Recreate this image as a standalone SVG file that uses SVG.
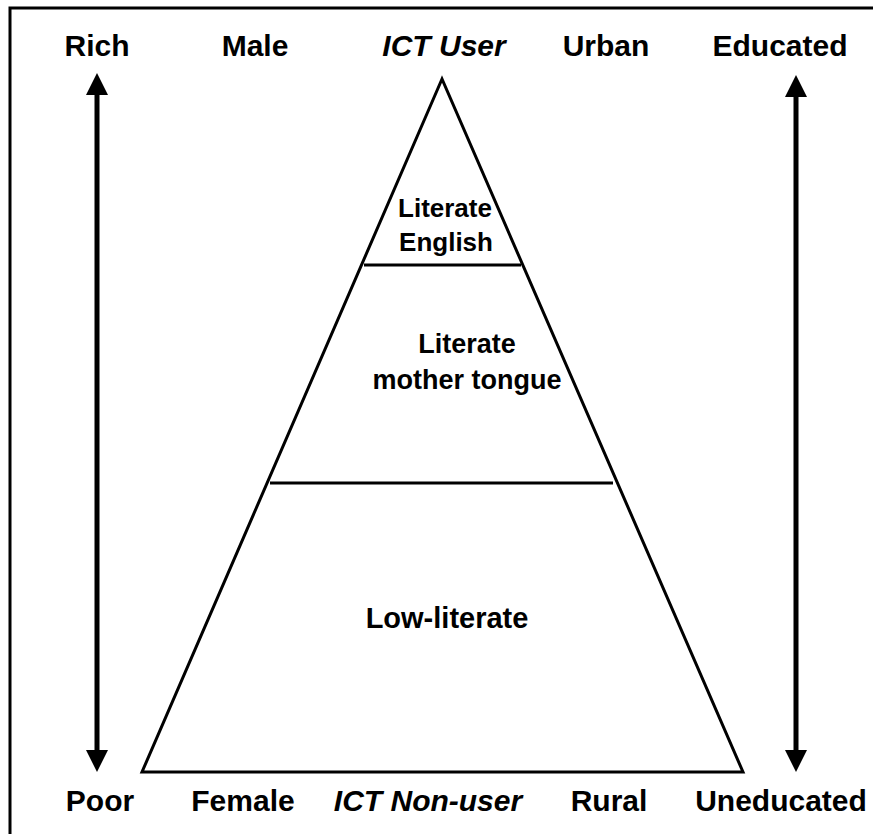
<svg xmlns="http://www.w3.org/2000/svg" width="873" height="834" viewBox="0 0 873 834">
<defs>
<style>
.t{font-family:"Liberation Sans",Arial,sans-serif;font-weight:bold;font-size:30px;fill:#000;text-anchor:middle}
.i{font-style:italic}
.s{font-size:26px}
.m{font-size:27px}
.l{font-size:29px}
.ln{stroke:#000;stroke-width:3;fill:none}
.ar{stroke:#000;stroke-width:5;fill:none}
</style>
<marker id="ah" markerUnits="userSpaceOnUse" markerWidth="24" markerHeight="24" viewBox="-1 0 24 22" refX="0" refY="11" orient="auto-start-reverse">
<path d="M-1,0 L21,11 L-1,22 Z" fill="#000"/>
</marker>
</defs>
<rect width="873" height="834" fill="#fff"/>
<g id="frame">
<path class="ln" d="M10,834 V8 H873"/>
</g>
<g id="pyramid">
<path class="ln" d="M442,79 L142,772 L743,772 Z" stroke-linejoin="miter"/>
</g>
<g id="connectors">
<line class="ln" x1="364" y1="265" x2="521" y2="265"/>
<line class="ln" x1="270" y1="483" x2="613" y2="483"/>
<line class="ar" x1="97" y1="94" x2="97" y2="751" marker-start="url(#ah)" marker-end="url(#ah)"/>
<line class="ar" x1="796" y1="96" x2="796" y2="751" marker-start="url(#ah)" marker-end="url(#ah)"/>
</g>
<g id="top-labels">
<text class="t" x="97" y="56">Rich</text>
<text class="t" x="255" y="56">Male</text>
<text class="t i" x="444" y="56">ICT User</text>
<text class="t" x="606" y="56">Urban</text>
<text class="t" x="780" y="56">Educated</text>
</g>
<g id="bottom-labels">
<text class="t" x="100" y="811">Poor</text>
<text class="t" x="243" y="811">Female</text>
<text class="t i" x="428" y="811">ICT Non-user</text>
<text class="t" x="609" y="811">Rural</text>
<text class="t" x="781" y="811">Uneducated</text>
</g>
<g id="tier-english">
<text class="t s" x="445" y="217">Literate</text>
<text class="t s" x="446" y="251">English</text>
</g>
<g id="tier-mother">
<text class="t m" x="467" y="353">Literate</text>
<text class="t m" x="467" y="389">mother tongue</text>
</g>
<g id="tier-low">
<text class="t l" x="447" y="628">Low-literate</text>
</g>
</svg>
